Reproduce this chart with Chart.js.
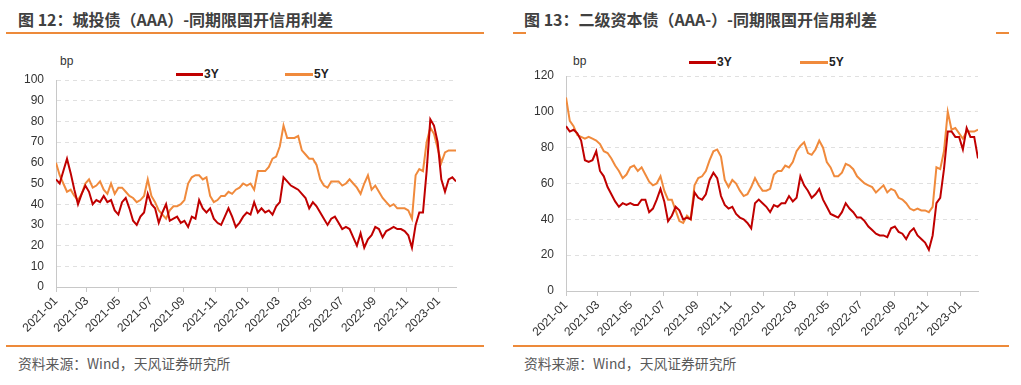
<!DOCTYPE html>
<html>
<head>
<meta charset="utf-8">
<script src="https://cdn.jsdelivr.net/npm/chart.js@4"></script>
<style>
  body { margin: 0; background: #fff; width: 1021px; height: 385px; position: relative; overflow: hidden; }
  .abs { position: absolute; white-space: nowrap; }
  .title { font: bold 16px "Noto Sans CJK SC", sans-serif; color: #404040; line-height: 20px; }
  .src { font: 13.8px "Noto Sans CJK SC", sans-serif; color: #595959; line-height: 18px; }
  .rule { position: absolute; height: 2px; background: #ED8A3A; }
  .unit { font: 12px "Liberation Sans", Arial, sans-serif; color: #333; line-height: 14px; }
  .lg-line { position: absolute; height: 3px; }
  .lg-text { font: bold 12px "Liberation Sans", Arial, sans-serif; color: #222; line-height: 14px; }
  canvas { position: absolute; top: 0; }
</style>
</head>
<body>
<div class="abs title" style="left:18px; top:9px;">图 12：城投债（AAA）-同期限国开信用利差</div>
<div class="abs title" style="left:524px; top:9px;">图 13：二级资本债（AAA-）-同期限国开信用利差</div>
<div class="rule" style="left:6px; top:32px; width:478px;"></div>
<div class="rule" style="left:513px; top:32px; width:13px;"></div>
<div class="rule" style="left:996px; top:32px; width:13px;"></div>

<div class="abs unit" style="left:60px; top:54px;">bp</div>
<div class="abs unit" style="left:573px; top:54px;">bp</div>

<!-- 图例 -->
<div class="lg-line" style="left:176px; top:73px; width:27px; background:#C00000;"></div>
<div class="abs lg-text" style="left:204px; top:67px;">3Y</div>
<div class="lg-line" style="left:285px; top:73px; width:28px; background:#F08A3C;"></div>
<div class="abs lg-text" style="left:314px; top:67px;">5Y</div>
<div class="lg-line" style="left:689px; top:61px; width:27px; background:#C00000;"></div>
<div class="abs lg-text" style="left:717px; top:55px;">3Y</div>
<div class="lg-line" style="left:800px; top:61px; width:28px; background:#F08A3C;"></div>
<div class="abs lg-text" style="left:829px; top:55px;">5Y</div>

<canvas id="chart-left" width="470" height="345" style="left:0px;"></canvas>
<canvas id="chart-right" width="480" height="345" style="left:510px;"></canvas>

<div class="rule" style="left:6px; top:345px; width:478px;"></div>
<div class="rule" style="left:513px; top:345px; width:496px;"></div>
<div class="abs src" style="left:18px; top:354px;">资料来源：Wind，天风证券研究所</div>
<div class="abs src" style="left:524px; top:354px;">资料来源：Wind，天风证券研究所</div>

<script>
// 周度数据，自 2021-01-01 起每 7 天一个点（最后一点为 2023-02-03 左右）
let startDate = '2021-01-01';

// x 轴刻度标签
let tickLabels = ['2021-01', '2021-03', '2021-05', '2021-07', '2021-09', '2021-11',
    '2022-01', '2022-03', '2022-05', '2022-07', '2022-09', '2022-11', '2023-01'];

// 图12 城投债（AAA）
let chengtou3Y = [
    52, 50, 56, 62, 55, 47, 40, 45, 49, 46,
    40, 42, 41, 44, 41, 42, 37, 35, 41, 43,
    38, 32, 30, 34, 36, 45, 40, 38, 31, 36,
    40, 32, 33, 34, 31, 32, 29, 34, 33, 42,
    38, 36, 38, 33, 31, 30, 34, 38, 34, 29,
    31, 34, 36, 35, 41, 36, 38, 36, 37, 35,
    39, 41, 53, 51, 49, 48, 47, 45, 43, 38,
    41, 39, 36, 33, 30, 33, 34, 31, 28, 29,
    28, 24, 20, 26, 19, 23, 25, 29, 28, 24,
    27, 28, 29, 28, 28, 27, 25, 19, 30, 36,
    36, 56, 81, 78, 70, 52, 46, 52, 53, 51
];
let chengtou5Y = [
    60, 54, 50, 46, 47, 44, 42, 45, 50, 52,
    48, 49, 51, 47, 45, 50, 45, 48, 48, 46,
    44, 43, 41, 42, 44, 52, 44, 41, 37, 35,
    33, 37, 39, 39, 40, 42, 50, 53, 54, 54,
    52, 53, 44, 41, 42, 44, 44, 46, 45, 47,
    48, 50, 49, 50, 47, 56, 56, 56, 58, 62,
    63, 68, 78, 72, 72, 72, 73, 66, 64, 62,
    62, 59, 52, 49, 48, 51, 51, 51, 49, 50,
    52, 50, 48, 45, 50, 54, 47, 49, 46, 43,
    41, 39, 40, 38, 38, 38, 37, 33, 54, 57,
    56, 70, 77, 74, 67, 60, 65, 66, 66, 66
];

// 图13 二级资本债（AAA-）
let erji3Y = [
    92, 89, 90, 88, 84, 73, 72, 73, 78, 67,
    64, 58, 54, 50, 47, 49, 48, 49, 48, 48,
    51, 51, 44, 46, 51, 57, 50, 39, 42, 47,
    45, 40, 41, 40, 55, 52, 51, 54, 62, 66,
    63, 53, 48, 46, 47, 43, 41, 40, 38, 35,
    49, 51, 49, 47, 44, 48, 47, 49, 49, 53,
    50, 52, 64, 59, 56, 52, 54, 57, 51, 47,
    43, 42, 41, 44, 49, 46, 44, 41, 41, 39,
    36, 34, 32, 31, 31, 30, 35, 36, 33, 32,
    29, 33, 35, 31, 29, 27, 23, 31, 49, 52,
    68, 89, 89, 86, 86, 79, 91, 86, 86, 74
];
let erji5Y = [
    108, 95, 92, 87, 86, 85, 86, 85, 84, 82,
    78, 77, 74, 70, 67, 63, 65, 69, 70, 67,
    69, 65, 61, 59, 60, 64, 56, 51, 51, 45,
    39, 38, 42, 40, 59, 63, 64, 67, 73, 78,
    79, 75, 62, 58, 62, 60, 56, 53, 54, 58,
    63, 59, 56, 56, 57, 65, 67, 67, 70, 69,
    72, 78, 81, 83, 77, 76, 79, 84, 80, 72,
    69, 64, 64, 66, 71, 70, 68, 64, 62, 60,
    59, 58, 55, 57, 59, 55, 57, 56, 52, 51,
    49, 46, 45, 46, 45, 45, 44, 47, 69, 68,
    78, 100, 90, 91, 88, 85, 89, 89, 89, 90
];

// 日期 -> 距起点的天数
function dayOf(str) {
    let p = str.split('-').map(Number);
    let s = startDate.split('-').map(Number);
    return Math.round((Date.UTC(p[0], p[1] - 1, p[2] || 1) - Date.UTC(s[0], s[1] - 1, s[2])) / 86400000);
}
let tickDays = tickLabels.map(dayOf);
let xMax = 763;

function toPoints(values) {
    return values.map((v, i) => ({ x: i * 7, y: v }));
}

let axisFont = { family: '"Liberation Sans", Arial, sans-serif', size: 12 };

function makeChart(id, s3, s5, yMax, yStep, padTop, padRight, xHeight) {
    let ctx = document.getElementById(id).getContext('2d');
    return new Chart(ctx, {
        type: 'line',
        data: {
            datasets: [
                { label: '3Y', data: toPoints(s3), borderColor: '#C00000', borderWidth: 2, pointRadius: 0, fill: false },
                { label: '5Y', data: toPoints(s5), borderColor: '#F08A3C', borderWidth: 2, pointRadius: 0, fill: false }
            ]
        },
        options: {
            responsive: false,
            animation: false,
            devicePixelRatio: 1,
            layout: { padding: { top: padTop, right: padRight, left: 0, bottom: 0 } },
            plugins: { legend: { display: false }, tooltip: { enabled: false } },
            scales: {
                x: {
                    type: 'linear',
                    min: 0,
                    max: xMax,
                    afterBuildTicks: (scale) => { scale.ticks = tickDays.map(d => ({ value: d })); },
                    afterFit: (scale) => { scale.height = xHeight; },
                    ticks: {
                        autoSkip: false,
                        minRotation: 45,
                        maxRotation: 45,
                        padding: 2,
                        color: '#333',
                        font: axisFont,
                        callback: (v) => tickLabels[tickDays.indexOf(v)]
                    },
                    grid: { drawOnChartArea: false, drawTicks: true, tickLength: 5, color: '#c8c8c8' },
                    border: { color: '#c8c8c8', width: 1 }
                },
                y: {
                    min: 0,
                    max: yMax,
                    afterFit: (scale) => { scale.width = 56; },
                    ticks: { stepSize: yStep, padding: 12, color: '#333', font: axisFont },
                    grid: { color: '#e0e0e0', drawTicks: false },
                    border: { color: '#c8c8c8', width: 1, dash: [4, 4] }
                }
            }
        }
    });
}

let leftChart = makeChart('chart-left', chengtou3Y, chengtou5Y, 100, 10, 80, 14, 58);
let rightChart = makeChart('chart-right', erji3Y, erji5Y, 120, 20, 76, 12, 54);
</script>
</body>
</html>
